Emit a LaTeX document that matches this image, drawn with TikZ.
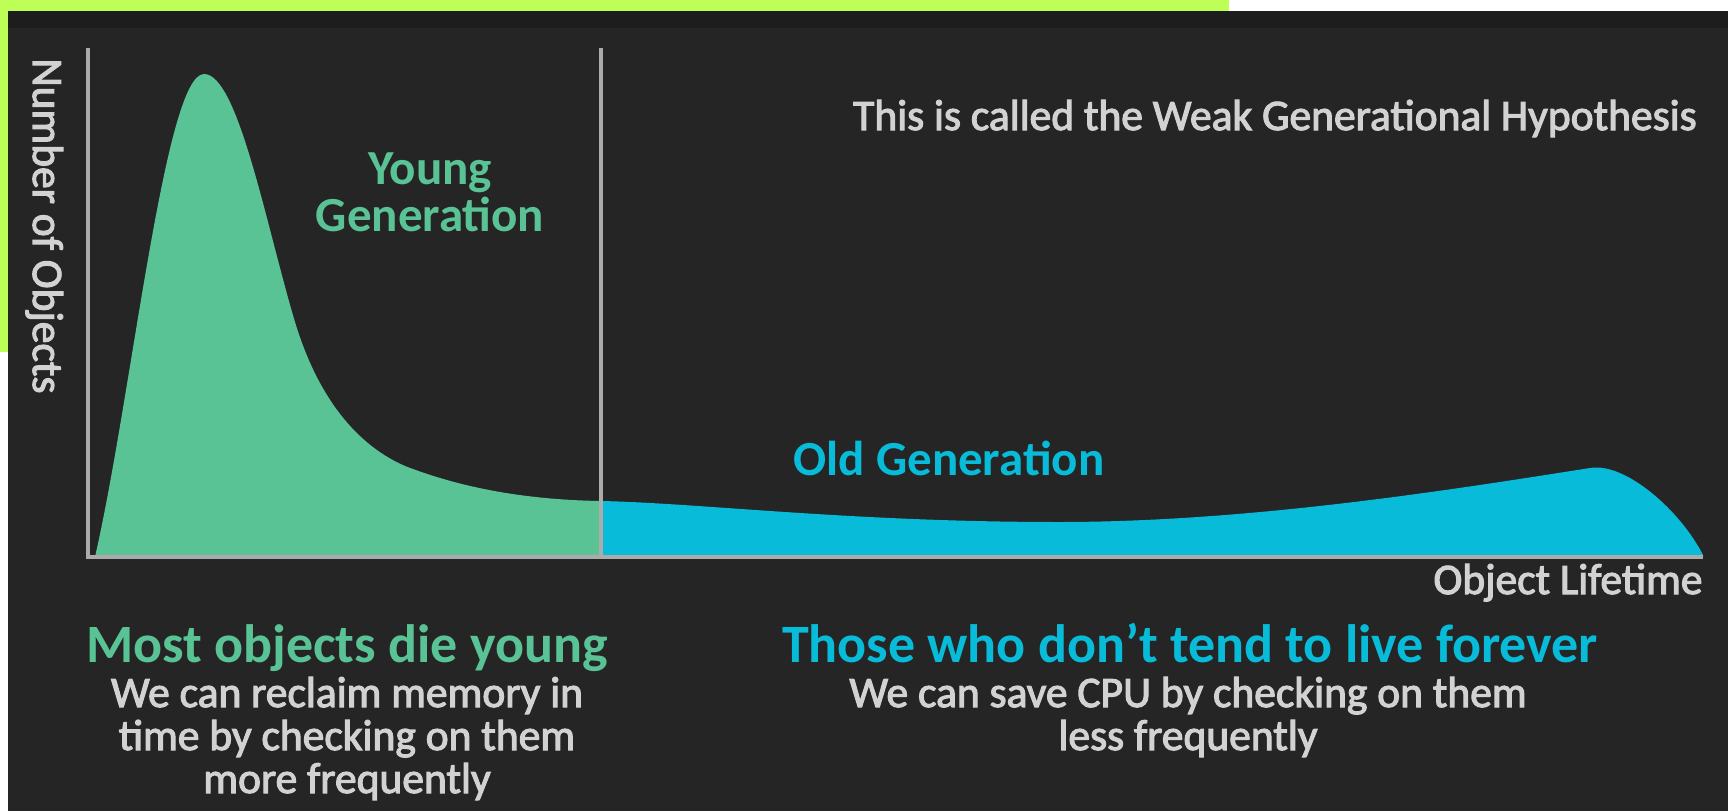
\documentclass[tikz,border=0pt]{standalone}
\usepackage{fontspec}
\setmainfont{Carlito}
\newfontfamily\semifont[FakeBold=2.5]{Carlito}

\definecolor{bg}{HTML}{252525}
\definecolor{strip}{HTML}{1D1D1D}
\definecolor{lime}{HTML}{BEFF57}
\definecolor{young}{HTML}{5AC396}
\definecolor{old}{HTML}{08BCD9}
\definecolor{axisgray}{HTML}{ABABAB}
\definecolor{txtgray}{HTML}{D2D2D2}

\begin{document}
\begin{tikzpicture}[x=1pt,y=-1pt,
    graytext/.style={text=txtgray, font=\semifont\fontsize{43.5}{43}\selectfont, inner sep=0pt, align=center},
    gentext/.style={font=\bfseries\fontsize{49}{47}\selectfont, inner sep=0pt, align=center},
    bigtext/.style={font=\bfseries\fontsize{54}{60}\selectfont, inner sep=0pt},
    axisline/.style={draw=axisgray, line width=4pt}
    ]

    \useasboundingbox (0,0) rectangle (1728,811);
    \fill[white] (0,0) rectangle (1728,811);
    \fill[lime] (0,0) rectangle (1229,11);
    \fill[lime] (0,0) rectangle (8,352);
    \fill[bg] (8,11) rectangle (1728,811);
    \fill[strip] (8,11) rectangle (1728,28);

    \coordinate (o) at (88,557);
    \coordinate (ytop) at (88,48);
    \coordinate (xend) at (1703,557);
    \coordinate (dtop) at (601,48);
    \coordinate (dbot) at (601,557);
    \coordinate (peak) at (204,74);
    \coordinate (join) at (601,501);

    % young generation
    \fill[young] (95,557) .. controls (132,395) and (165,74) .. (peak)
        .. controls (238,74) and (266,225) .. (295,322)
        .. controls (315,388) and (350,442) .. (405,466)
        .. controls (472,492) and (540,500) .. (join) -- (dbot) -- cycle;
    % old generation
    \fill[old] (join) .. controls (700,503) and (850,522) .. (1059,522)
        .. controls (1250,522) and (1450,490) .. (1590,468)
        .. controls (1625,462) and (1680,510) .. (1703,555) -- (xend) -- (dbot) -- cycle;

    \draw[axisline] (ytop) -- (o) -- (xend);
    \draw[axisline] (dtop) -- (dbot);

    \node[graytext, rotate=-90, anchor=base] (ylab) at (33,226) {Number of Objects};
    \node[graytext, anchor=base] (xlab) at (1568,594) {Object Lifetime};
    \node[graytext, anchor=base] (hyp) at (1275,130) {This is called the Weak Generational Hypothesis};

    \node[gentext, text=young, anchor=base] (younglab) at (430,231) {Young\\Generation};
    \node[gentext, text=old, anchor=base] (oldlab) at (949,475) {Old Generation};

    \node[bigtext, text=young, anchor=base] (youngtitle) at (347,662) {Most objects die young};
    \node[graytext, anchor=base] (youngnote) at (347,793) {We can reclaim memory in\\time by checking on them\\more frequently};

    \node[bigtext, text=old, anchor=base] (oldtitle) at (1190,662) {Those who don’t tend to live forever};
    \node[graytext, anchor=base] (oldnote) at (1188,750) {We can save CPU by checking on them\\less frequently};

\end{tikzpicture}
\end{document}
